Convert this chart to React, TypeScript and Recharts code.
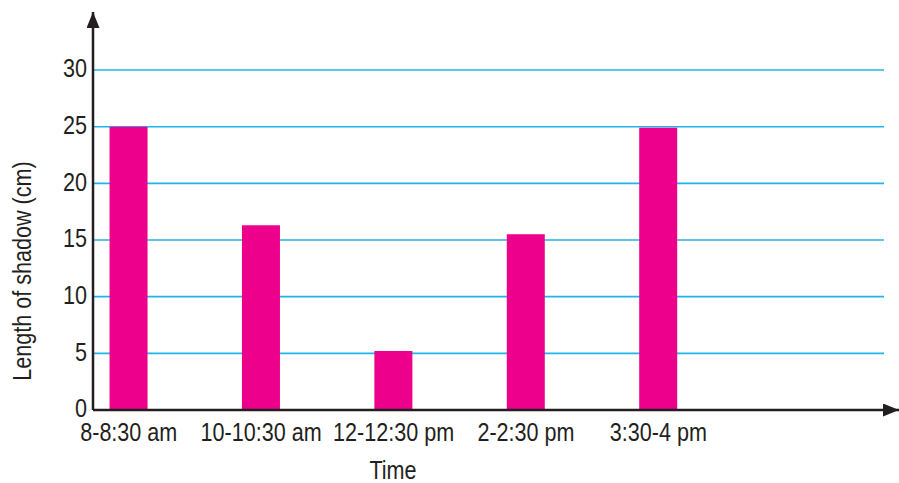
import React from 'react';
import { ComposedChart, Bar, XAxis, YAxis, CartesianGrid } from 'recharts';

const timeSlots = ['8-8:30 am', '10-10:30 am', '12-12:30 pm', '2-2:30 pm', '3:30-4 pm'];
const shadowLengths = [25, 16.3, 5.2, 15.5, 24.9];
const slotIndex = [0, 1, 2, 3, 4];
const yTicks = [0, 5, 10, 15, 20, 25, 30];

const data = timeSlots.map((t, i) => ({ slot: slotIndex[i], time: t, length: shadowLengths[i] }));

const FONT = "'Liberation Sans', Arial, sans-serif";
const SQUEEZE = 0.83;
const FS = 26;
const AXIS = '#231f20';
const TEXT = '#231f20';

const XTick = (props: any) => {
  const { x, y, payload } = props;
  return (
    <g transform={`translate(${x},${y})`}>
      <text transform={`scale(${SQUEEZE},1)`} x={0} y={0} dy="0.72em" textAnchor="middle" fill={TEXT} fontSize={FS} fontFamily={FONT}>
        {timeSlots[payload.value]}
      </text>
    </g>
  );
};

const YTick = (props: any) => {
  const { x, y, payload } = props;
  return (
    <g transform={`translate(${x},${y - 2})`}>
      <text transform={`scale(${SQUEEZE},1)`} x={0} y={0} dy="0.36em" textAnchor="end" fill={TEXT} fontSize={FS} fontFamily={FONT}>
        {payload.value}
      </text>
    </g>
  );
};

export default function App() {
  return (
    <div style={{ position: 'absolute', left: 0, top: 0, width: 899, height: 483, background: '#fff' }}>
      <svg width={0} height={0} style={{ position: 'absolute' }}>
        <defs>
          <marker id="axisArrow" markerUnits="userSpaceOnUse" markerWidth={18} markerHeight={14} refX={16} refY={6.5} orient="auto-start-reverse">
            <path d="M0,0 L16,6.5 L0,13 Z" fill={AXIS} />
          </marker>
        </defs>
      </svg>
      <ComposedChart width={899} height={483} data={data} margin={{ top: 12, right: 0, bottom: 0, left: 0 }}>
        <CartesianGrid
          vertical={false}
          stroke="#1fb5e9"
          strokeWidth={1.6}
          x={93}
          width={791}
          horizontalValues={[5, 10, 15, 20, 25, 30]}
        />
        <XAxis
          type="number"
          dataKey="slot"
          domain={[-0.27, 5.817]}
          allowDataOverflow
          ticks={slotIndex}
          interval={0}
          height={73}
          tickLine={false}
          tickSize={0}
          tickMargin={12}
          axisLine={{ stroke: AXIS, strokeWidth: 2.5, markerEnd: 'url(#axisArrow)' }}
          tick={<XTick />}
          label={{
            content: () => (
              <g transform="translate(393,479)">
                <text transform={`scale(${SQUEEZE},1)`} x={0} y={0} textAnchor="middle" fill={TEXT} fontSize={FS} fontFamily={FONT}>
                  Time
                </text>
              </g>
            ),
          }}
        />
        <YAxis
          type="number"
          domain={[0, 35.12]}
          allowDataOverflow
          ticks={yTicks}
          interval={0}
          width={93}
          tickLine={false}
          tickSize={0}
          tickMargin={6}
          axisLine={{ stroke: AXIS, strokeWidth: 2.5, markerStart: 'url(#axisArrow)' }}
          tick={<YTick />}
          label={{
            content: () => (
              <g transform="translate(22,271) rotate(-90)">
                <text
                  transform={`scale(${SQUEEZE},1)`}
                  x={0}
                  y={0}
                  textAnchor="middle"
                  dominantBaseline="central"
                  fill={TEXT}
                  fontSize={FS}
                  fontFamily={FONT}
                >
                  Length of shadow (cm)
                </text>
              </g>
            ),
          }}
        />
        <Bar dataKey="length" fill="#ec008c" barSize={38} isAnimationActive={false} />
      </ComposedChart>
    </div>
  );
}
